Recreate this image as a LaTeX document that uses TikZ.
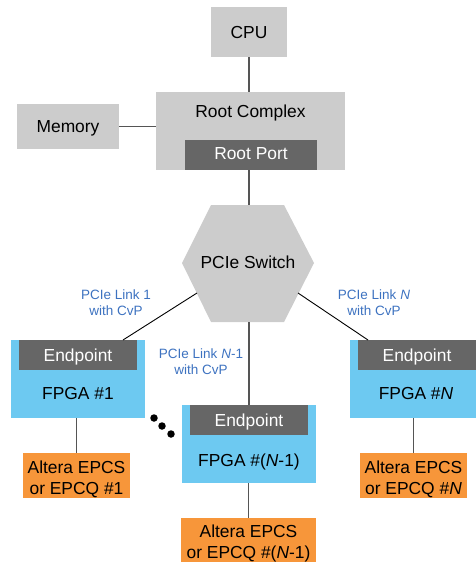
\documentclass[tikz,border=0pt]{standalone}
\usepackage{fontspec}
\setmainfont{Liberation Sans}
\definecolor{lgray}{HTML}{CCCCCC}
\definecolor{dgray}{HTML}{666666}
\definecolor{fblue}{HTML}{6DC9F1}
\definecolor{forange}{HTML}{F7963A}
\definecolor{lblue}{HTML}{3D72C0}
\definecolor{wire}{HTML}{555555}
\begin{document}
\begin{tikzpicture}[x=1pt,y=-1pt,
  graybox/.style={fill=lgray,inner sep=0pt},
  portbox/.style={fill=dgray,inner sep=0pt,text=white},
  fpgabox/.style={fill=fblue,inner sep=0pt},
  epcsbox/.style={fill=forange,inner sep=0pt},
  maintext/.style={font=\fontsize{17.4}{20.3}\selectfont,text height=12.5pt,text depth=0pt},
  twoline/.style={inner sep=0pt,align=center,font=\fontsize{17.4}{20.8}\selectfont},
  linklabel/.style={text=lblue,align=center,font=\fontsize{13.5}{16}\selectfont},
  wireline/.style={draw=wire,line width=1.1pt},
  linkline/.style={draw=black,line width=0.9pt},
  dot/.style={circle,fill=black,inner sep=0pt,minimum size=7.5pt}]
\useasboundingbox (0,0) rectangle (476,562);
\clip (0,0) rectangle (476,562);
% CPU
\node[graybox,maintext,minimum width=76pt,minimum height=50pt] (cpu) at (249,32) {CPU};
% Root complex
\node[graybox,minimum width=189pt,minimum height=78pt] (rc) at (250.5,131) {};
\node[maintext,inner sep=0pt] (rctext) at (250.5,111.7) {Root Complex};
\node[portbox,minimum width=132pt,minimum height=30pt] (rp) at (251,155) {};
\node[maintext,inner sep=0pt,text=white] (rptext) at (251,153.3) {Root Port};
% Memory
\node[graybox,maintext,minimum width=102pt,minimum height=45pt] (mem) at (68,126.5) {Memory};
% Hexagon switch
\coordinate (h1) at (182,263);
\coordinate (h2) at (211,205);
\coordinate (h3) at (284,205);
\coordinate (h4) at (314,263);
\coordinate (h5) at (284,322);
\coordinate (h6) at (211,322);
\fill[lgray] (h1) -- (h2) -- (h3) -- (h4) -- (h5) -- (h6) -- cycle;
\node[maintext,inner sep=0pt] (sw) at (248,262.7) {PCIe Switch};
\coordinate (swtop) at (249,205);
\coordinate (swbot) at (249,322);
\coordinate (swl) at (197,293);
\coordinate (swr) at (298,293);
% FPGA 1
\node[fpgabox,minimum width=134pt,minimum height=78pt] (f1) at (78,379) {};
\node[portbox,maintext,minimum width=118pt,minimum height=30pt] (ep1) at (78,355) {Endpoint};
\node[maintext,inner sep=0pt] (f1text) at (78,393) {FPGA \#1};
% FPGA N-1
\node[fpgabox,minimum width=134pt,minimum height=78pt] (fm) at (249,444) {};
\node[portbox,maintext,minimum width=118pt,minimum height=30pt] (epm) at (249,420) {Endpoint};
\node[maintext,inner sep=0pt] (fmtext) at (249,460) {FPGA \#(\textit{N}-1)};
% FPGA N
\node[fpgabox,minimum width=134pt,minimum height=78pt] (fn) at (417,379) {};
\node[portbox,maintext,minimum width=118pt,minimum height=30pt] (epn) at (417,355) {Endpoint};
\node[maintext,inner sep=0pt] (fntext) at (416,393) {FPGA \#\textit{N}};
% EPCS
\node[epcsbox,minimum width=107pt,minimum height=45pt] (e1) at (76.5,475.5) {};
\node[twoline] (e1t) at (76.5,479) {Altera EPCS\\or EPCQ \#1};
\node[epcsbox,minimum width=135pt,minimum height=48pt] (em) at (248.5,542) {};
\node[twoline] (emt) at (248.5,543.5) {Altera EPCS\\or EPCQ \#(\textit{N}-1)};
\node[epcsbox,minimum width=107pt,minimum height=45pt] (en) at (413.5,475.5) {};
\node[twoline] (ent) at (413.5,479) {Altera EPCS\\or EPCQ \#\textit{N}};
% Labels
\node[linklabel] (l1) at (116,303) {PCIe Link 1\\with CvP};
\node[linklabel] (lm) at (201,362) {PCIe Link \textit{N}-1\\with CvP};
\node[linklabel] (ln) at (374,303) {PCIe Link \textit{N}\\with CvP};
% dots
\node[dot] (d1) at (154,418) {};
\node[dot] (d2) at (162,426) {};
\node[dot] (d3) at (171,434) {};
% wires
\draw[wireline] (cpu.south) -- (cpu.south |- rc.north);
\draw[wireline] (mem.east) -- (mem.east -| rc.west);
\draw[wireline] (rp.south -| swtop) -- (swtop);
\draw[linkline] (swl) -- (123,340);
\draw[linkline] (swr) -- (368,340);
\draw[wireline] (swbot) -- (swbot |- fm.north);
\draw[wireline] (f1.south -| e1.north) -- (e1.north);
\draw[wireline] (fm.south -| em.north) -- (em.north);
\draw[wireline] (fn.south -| en.north) -- (en.north);
\end{tikzpicture}
\end{document}
